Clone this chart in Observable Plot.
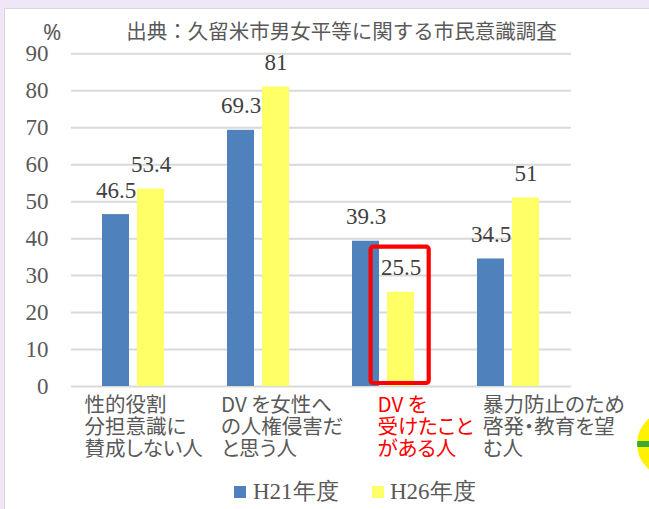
<!DOCTYPE html>
<html>
<head>
<meta charset="utf-8">
<script src="https://cdn.jsdelivr.net/npm/d3@7"></script>
<script src="https://cdn.jsdelivr.net/npm/@observablehq/plot@0.6"></script>
<style>
  html, body { margin: 0; padding: 0; }
  body { width: 649px; height: 509px; overflow: hidden; background: #efe7f8; position: relative; }
  #panel { position: absolute; left: 4px; top: 8px; right: -2px; bottom: -2px; background: #fff; border-left: 1px solid #d8d8d8; border-top: 1px solid #d8d8d8; }
  #chart { position: absolute; left: 0; top: 0; }
  #chart g[font-family="Noto Sans CJK JP"] text { font-feature-settings: "palt"; }
  #title { position: absolute; left: 0; width: 683px; top: 19.8px; text-align: center; font-family: "Noto Sans CJK JP", sans-serif; font-size: 20.5px; line-height: 1; color: #595959; white-space: nowrap; }
  #pct { position: absolute; left: 43px; top: 20px; font-family: "Noto Sans", sans-serif; font-size: 22px; line-height: 1; color: #595959; }
  .sw { position: absolute; width: 12px; height: 12px; top: 486px; }
  .lg { position: absolute; top: 479.5px; font-family: "Liberation Serif", serif; font-size: 23px; line-height: 1; color: #595959; white-space: nowrap; }
  #deco { position: absolute; left: 637px; top: 411px; width: 66px; height: 66px; border-radius: 50%;
    background: linear-gradient(#fff200 0, #fff200 46%, #3aaa35 46%, #3aaa35 54%, #fff200 54%, #fff200 100%); }
</style>
</head>
<body>
<div id="panel"></div>
<div id="chart"></div>
<div id="title"></div>
<div id="pct"></div>
<div id="legend"></div>
<div id="deco"></div>
<script>
const titleText = "出典：久留米市男女平等に関する市民意識調査";
const unitText = "%";
const categories = [
  "性的役割分担意識に賛成しない人",
  "DV を女性への人権侵害だと思う人",
  "DV を受けたことがある人",
  "暴力防止のため啓発・教育を望む人"
];
const categoryLines = [
  "性的役割\n分担意識に\n賛成しない人",
  "DV を女性へ\nの人権侵害だ\nと思う人",
  "DV を\n受けたこと\nがある人",
  "暴力防止のため\n啓発・教育を望\nむ人"
];
const series = ["H21年度", "H26年度"];
const h21Values = [46.5, 69.3, 39.3, 34.5];
const h26Values = [53.4, 81, 25.5, 51];
const seriesColors = ["#4f81bd", "#ffff66"];
const yTicks = [0, 10, 20, 30, 40, 50, 60, 70, 80, 90];
const highlightIndex = 2;

const data = categories.flatMap((c, i) => [
  {cat: c, year: series[0], value: h21Values[i]},
  {cat: c, year: series[1], value: h26Values[i]}
]);

const labelDx = [13, 24.5, 56, 36.5];
const labelMarks = categories.map((c, i) =>
  Plot.text([{cat: c, label: categoryLines[i]}], {
    fx: "cat", text: "label", frameAnchor: "bottom-left",
    textAnchor: "start", lineAnchor: "top", lineHeight: 1.05,
    dx: labelDx[i], dy: 10.7,
    fontFamily: "Noto Sans CJK JP", fontSize: 20.5,
    fill: i === highlightIndex ? "#ff0000" : "#595959"
  })
);

const chart = Plot.plot({
  width: 649, height: 509,
  marginLeft: 70, marginRight: 77, marginTop: 53.3, marginBottom: 123,
  style: {fontFamily: "Liberation Serif, serif", fontSize: "22px", color: "#595959", background: "transparent", overflow: "visible"},
  fx: {domain: categories, padding: 0, axis: null, label: null},
  x: {domain: series, paddingInner: 0.22, paddingOuter: 0.85, axis: null, label: null},
  y: {domain: [0, 90], label: null},
  color: {domain: series, range: seriesColors},
  marks: [
    Plot.ruleY(yTicks, {stroke: "#d9d9d9", strokeWidth: 2}),
    Plot.axisY({ticks: yTicks, tickSize: 0, tickPadding: 23, label: null, fill: "#595959", fontSize: 23}),
    Plot.barY(data, {fx: "cat", x: "year", y: "value", fill: "year"}),
    Plot.text(data, {fx: "cat", x: "year", y: "value", text: d => String(d.value),
      lineAnchor: "bottom", dy: -17, fill: "#404040", fontFamily: "Liberation Serif, serif", fontSize: 23}),
    Plot.barY([{cat: categories[highlightIndex], year: series[1], y1: 0, y2: 37.7}], {
      fx: "cat", x: "year", y1: "y1", y2: "y2", fill: "none", stroke: "#ff0000", strokeWidth: 4.2,
      insetLeft: -16.4, insetRight: -14.7, insetBottom: 3, rx: 2.5
    }),
    ...labelMarks
  ]
});
document.getElementById("chart").appendChild(chart);
document.getElementById("title").textContent = titleText;
document.getElementById("pct").textContent = unitText;

const legend = document.getElementById("legend");
const swatchX = [234, 372];
const textX = [253, 390];
series.forEach((s, i) => {
  const sw = document.createElement("div");
  sw.className = "sw"; sw.style.left = swatchX[i] + "px"; sw.style.background = seriesColors[i];
  legend.appendChild(sw);
  const t = document.createElement("div");
  t.className = "lg"; t.style.left = textX[i] + "px"; t.textContent = s;
  legend.appendChild(t);
});
</script>
</body>
</html>
